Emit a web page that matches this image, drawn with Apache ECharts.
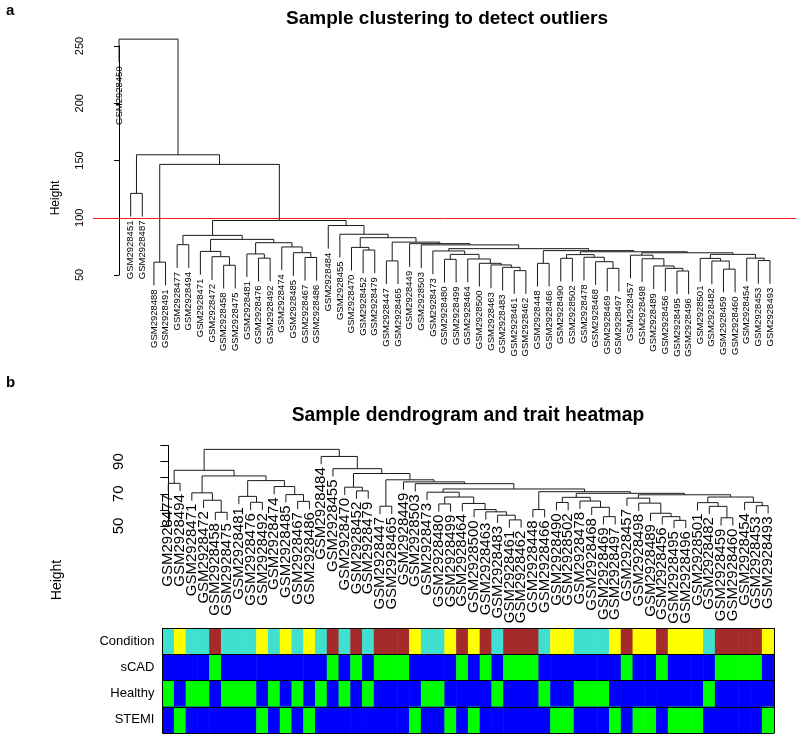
<!DOCTYPE html>
<html><head><meta charset="utf-8">
<script src="https://cdn.jsdelivr.net/npm/echarts@6/dist/echarts.min.js"></script>
<style>html,body{margin:0;padding:0;background:#fff}#c{width:800px;height:737px}</style>
</head><body><div id="c"></div>
<script>
const FONT = '"Liberation Sans", Arial, Helvetica, sans-serif';

// Hierarchical clustering of the 52 retained samples.
// Each row: [left, right, height]; a string is a sample, a number refers to an earlier row.
const coreMerges = [
  ['GSM2928477', 'GSM2928494', 76.5],   // 0
  ['GSM2928458', 'GSM2928475', 58.5],   // 1
  ['GSM2928472', 1, 66.0],              // 2
  ['GSM2928471', 2, 70.6],              // 3
  ['GSM2928476', 'GSM2928492', 64.7],   // 4
  ['GSM2928481', 4, 68.4],              // 5
  ['GSM2928467', 'GSM2928486', 65.3],   // 6
  ['GSM2928485', 6, 69.5],              // 7
  ['GSM2928474', 7, 74.5],              // 8
  [5, 8, 78.2],                         // 9
  [3, 9, 81.1],                         // 10
  [0, 10, 84.6],                        // 11
  ['GSM2928452', 'GSM2928479', 71.8],   // 12
  ['GSM2928470', 12, 74.1],             // 13
  ['GSM2928447', 'GSM2928465', 62.3],   // 14
  ['GSM2928480', 'GSM2928499', 63.7],   // 15
  ['GSM2928461', 'GSM2928462', 53.8],   // 16
  ['GSM2928483', 16, 56.7],             // 17
  ['GSM2928463', 17, 58.8],             // 18
  ['GSM2928500', 18, 60.2],             // 19
  ['GSM2928464', 19, 64.0],             // 20
  [15, 20, 68.0],                       // 21
  ['GSM2928473', 21, 71.0],             // 22
  ['GSM2928448', 'GSM2928466', 60.2],   // 23
  ['GSM2928490', 'GSM2928502', 64.6],   // 24
  ['GSM2928469', 'GSM2928497', 55.8],   // 25
  ['GSM2928468', 25, 61.6],             // 26
  ['GSM2928478', 26, 65.5],             // 27
  [24, 27, 67.8],                       // 28
  ['GSM2928495', 'GSM2928496', 53.5],   // 29
  ['GSM2928456', 29, 55.8],             // 30
  ['GSM2928489', 30, 57.9],             // 31
  ['GSM2928498', 31, 64.2],             // 32
  ['GSM2928457', 32, 67.3],             // 33
  ['GSM2928459', 'GSM2928460', 55.1],   // 34
  ['GSM2928482', 34, 62.2],             // 35
  ['GSM2928501', 35, 64.5],             // 36
  ['GSM2928453', 'GSM2928493', 62.6],   // 37
  ['GSM2928454', 37, 64.7],             // 38
  [36, 38, 68.0],                       // 39
  [33, 39, 69.4],                       // 40
  [28, 40, 70.3],                       // 41
  [23, 41, 71.3],                       // 42
  [22, 42, 73.0],                       // 43
  ['GSM2928503', 43, 76.3],             // 44
  ['GSM2928449', 44, 77.4],             // 45
  [14, 45, 78.7],                       // 46
  [13, 46, 82.6],                       // 47
  ['GSM2928455', 47, 85.6],             // 48
  ['GSM2928484', 48, 93.2],             // 49
  [11, 49, 97.6]                        // 50
];
// Extra merges of panel a (all 57 samples); numbers continue the row numbering above.
const outlierMerges = [
  ['GSM2928488', 'GSM2928491', 61.2],   // 51
  [51, 50, 146.6],                      // 52
  ['GSM2928451', 'GSM2928487', 121.3],  // 53
  [53, 52, 155.0],                      // 54
  ['GSM2928450', 54, 256.0]             // 55
];

const cutHeight = 100;
const yTicksA = [50, 100, 150, 200, 250];
const yTicksB = [50, 60, 70, 80, 90, 100];
const yLabelsB = [50, 70, 90];

const traitNames = ['Condition', 'sCAD', 'Healthy', 'STEMI'];
const healthySamples = ['GSM2928477','GSM2928471','GSM2928472','GSM2928475','GSM2928481','GSM2928476','GSM2928474','GSM2928467','GSM2928484','GSM2928470','GSM2928479','GSM2928473','GSM2928480','GSM2928483','GSM2928466','GSM2928478','GSM2928468','GSM2928469','GSM2928482'];
const stemiSamples = ['GSM2928494','GSM2928492','GSM2928485','GSM2928486','GSM2928503','GSM2928499','GSM2928500','GSM2928490','GSM2928502','GSM2928497','GSM2928498','GSM2928489','GSM2928495','GSM2928496','GSM2928501','GSM2928493'];
const scadSamples = ['GSM2928458','GSM2928455','GSM2928452','GSM2928447','GSM2928465','GSM2928449','GSM2928464','GSM2928463','GSM2928461','GSM2928462','GSM2928448','GSM2928457','GSM2928456','GSM2928459','GSM2928460','GSM2928454','GSM2928453'];

// ---------- tree layout (R hclust style) ----------
function layoutTree(merges, hang) {
  const root = merges.length - 1;
  const order = [];
  (function visit(r) {
    if (typeof r === 'string') order.push(r);
    else { visit(merges[r][0]); visit(merges[r][1]); }
  })(root);
  const pos = {}; order.forEach((s, i) => pos[s] = i);
  const segs = [], leaves = [];
  (function place(r, parentH) {
    if (typeof r === 'string') {
      const h = parentH - hang;
      leaves.push({ x: pos[r], h: h, name: r });
      return { x: pos[r], h: h };
    }
    const m = merges[r];
    const A = place(m[0], m[2]), B = place(m[1], m[2]);
    segs.push([A.x, A.h, B.x, B.h, m[2]]);
    return { x: (A.x + B.x) / 2, h: m[2] };
  })(root, null);
  return { order, segs, leaves };
}

const allMerges = coreMerges.concat(outlierMerges);
const heightsCore = coreMerges.map(m => m[2]);
const heightsAll = allMerges.map(m => m[2]);
const rangeCore = Math.max(...heightsCore) - Math.min(...heightsCore);
const rangeAll = Math.max(...heightsAll) - Math.min(...heightsAll);
const treeA = layoutTree(allMerges, 0.1 * rangeAll);
const treeB = layoutTree(coreMerges, 0.11 * rangeCore);
const nA = treeA.order.length, nB = treeB.order.length;

// heatmap data
const condCode = s => healthySamples.includes(s) ? 2 : (stemiSamples.includes(s) ? 3 : 4);
const heatData = [];
treeB.order.forEach((s, i) => {
  heatData.push([i, 0, condCode(s)]);
  heatData.push([i, 1, scadSamples.includes(s) ? 1 : 0]);
  heatData.push([i, 2, healthySamples.includes(s) ? 1 : 0]);
  heatData.push([i, 3, stemiSamples.includes(s) ? 1 : 0]);
});

function dendroSeries(tree, axisIdx, color) {
  return {
    type: 'custom', xAxisIndex: axisIdx, yAxisIndex: axisIdx, clip: false, silent: true,
    data: tree.segs,
    renderItem: function (params, api) {
      const x1 = api.value(0), h1 = api.value(1), x2 = api.value(2), h2 = api.value(3), h = api.value(4);
      const p = [api.coord([x1, h1]), api.coord([x1, h]), api.coord([x2, h]), api.coord([x2, h2])];
      return { type: 'polyline', shape: { points: p }, style: { stroke: color, lineWidth: 1, fill: null } };
    }
  };
}
function labelSeries(tree, axisIdx, fontSize, gap) {
  return {
    type: 'custom', xAxisIndex: axisIdx, yAxisIndex: axisIdx, clip: false, silent: true,
    data: tree.leaves.map(l => [l.x, l.h]),
    renderItem: function (params, api) {
      const p = api.coord([api.value(0), api.value(1)]);
      return { type: 'text', x: p[0], y: p[1] + gap, rotation: Math.PI / 2,
        style: { text: tree.leaves[params.dataIndex].name, fontSize: fontSize, fontFamily: FONT,
          fill: '#000', align: 'right', verticalAlign: 'middle' } };
    }
  };
}

const chart = echarts.init(document.getElementById('c'));
const option = {
  animation: false,
  backgroundColor: '#fff',
  textStyle: { fontFamily: FONT },
  graphic: [
    { type: 'text', left: 6, top: 3, style: { text: 'a', font: 'bold 15px ' + FONT, fill: '#000' } },
    { type: 'text', left: 6, top: 375, style: { text: 'b', font: 'bold 15px ' + FONT, fill: '#000' } },
    { type: 'text', x: 447, y: 19, style: { text: 'Sample clustering to detect outliers', font: 'bold 19px ' + FONT, fill: '#000', align: 'center', verticalAlign: 'middle' } },
    { type: 'text', x: 468, y: 416, style: { text: 'Sample dendrogram and trait heatmap', font: 'bold 19.3px ' + FONT, fill: '#000', align: 'center', verticalAlign: 'middle' } },
    { type: 'text', x: 56, y: 198, rotation: Math.PI / 2, style: { text: 'Height', font: '12px ' + FONT, fill: '#000', align: 'center', verticalAlign: 'middle' } },
    { type: 'text', x: 57, y: 580, rotation: Math.PI / 2, style: { text: 'Height', font: '14px ' + FONT, fill: '#000', align: 'center', verticalAlign: 'middle' } }
  ],
  grid: [
    { left: 93, right: 4, top: 46, height: 229 },
    { left: 144.3, right: 7.9, top: 445.5, height: 80.5 },
    { left: 162.4, right: 26.1, top: 628.3, height: 104.7 }
  ],
  xAxis: [
    { gridIndex: 0, type: 'value', min: -0.04 * (nA - 1), max: 1.04 * (nA - 1), show: false },
    { gridIndex: 1, type: 'value', min: -0.04 * (nB - 1), max: 1.04 * (nB - 1), show: false },
    { gridIndex: 2, type: 'category', data: treeB.order, show: false }
  ],
  yAxis: [
    { gridIndex: 0, type: 'value', min: yTicksA[0], max: yTicksA[yTicksA.length - 1], interval: yTicksA[1] - yTicksA[0],
      axisLine: { show: true, lineStyle: { color: '#000', width: 1 } },
      axisTick: { show: true, length: 5, lineStyle: { color: '#000' } },
      splitLine: { show: false },
      axisLabel: { rotate: 90, fontSize: 11, color: '#000', margin: 8, fontFamily: FONT } },
    { gridIndex: 1, type: 'value', min: yTicksB[0], max: yTicksB[yTicksB.length - 1], interval: yTicksB[1] - yTicksB[0],
      axisLine: { show: true, lineStyle: { color: '#000', width: 1 } },
      axisTick: { show: true, length: 8, lineStyle: { color: '#000' } },
      splitLine: { show: false },
      axisLabel: { rotate: 90, fontSize: 15, color: '#000', margin: 18, fontFamily: FONT,
        formatter: v => yLabelsB.includes(v) ? String(v) : '' } },
    { gridIndex: 2, type: 'category', inverse: true, data: traitNames, z: 10,
      axisLine: { show: true, lineStyle: { color: '#000', width: 1 } },
      axisTick: { show: false },
      splitLine: { show: true, lineStyle: { color: '#000', width: 1 } },
      axisLabel: { fontSize: 13, color: '#000', margin: 8, fontFamily: FONT } },
    { gridIndex: 2, type: 'category', inverse: true, data: traitNames, position: 'right', z: 10,
      axisLine: { show: true, lineStyle: { color: '#000', width: 1 } },
      axisTick: { show: false }, axisLabel: { show: false }, splitLine: { show: false } }
  ],
  visualMap: {
    type: 'piecewise', show: false, dimension: 2, seriesIndex: 4,
    pieces: [
      { value: 0, color: '#0000FF' }, { value: 1, color: '#00FF00' },
      { value: 2, color: '#40E0D0' }, { value: 3, color: '#FFFF00' }, { value: 4, color: '#A52A2A' }
    ]
  },
  series: [
    Object.assign(dendroSeries(treeA, 0, '#1a1a1a'), {
      markLine: { silent: true, symbol: 'none', label: { show: false },
        lineStyle: { color: '#f02020', width: 1, type: 'solid' }, data: [{ yAxis: cutHeight }] }
    }),
    labelSeries(treeA, 0, 9.5, 4),
    dendroSeries(treeB, 1, '#1a1a1a'),
    labelSeries(treeB, 1, 15, 3),
    { type: 'heatmap', xAxisIndex: 2, yAxisIndex: 2, data: heatData, silent: true,
      itemStyle: { borderWidth: 0 }, emphasis: { disabled: true } }
  ]
};
chart.setOption(option);
</script>
</body></html>
